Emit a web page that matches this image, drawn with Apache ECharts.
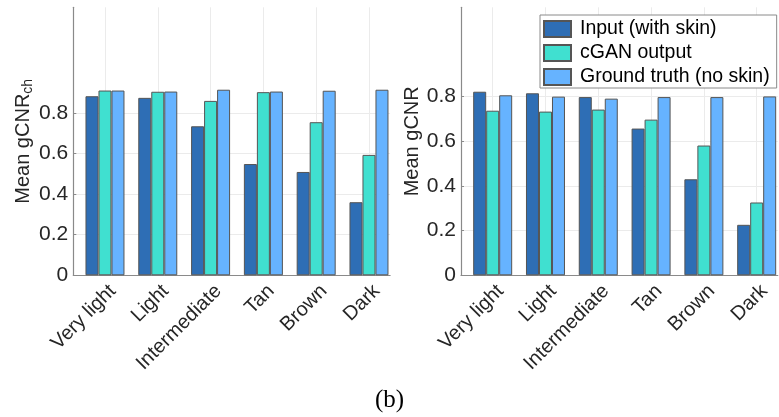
<!DOCTYPE html>
<html>
<head>
<meta charset="utf-8">
<script src="https://cdn.jsdelivr.net/npm/echarts@6/dist/echarts.min.js"></script>
<style>
  html, body { margin: 0; padding: 0; background: #fff; }
  #chart { width: 779px; height: 417px; }
</style>
</head>
<body>
<div id="chart"></div>
<script>
const categories = ['Very light', 'Light', 'Intermediate', 'Tan', 'Brown', 'Dark'];
const positions = [1, 2, 3, 4, 5, 6];
const seriesNames = ['Input (with skin)', 'cGAN output', 'Ground truth (no skin)'];
const leftInput = [0.882, 0.874, 0.734, 0.548, 0.509, 0.360];
const leftCgan  = [0.910, 0.904, 0.859, 0.902, 0.754, 0.593];
const leftGT    = [0.910, 0.905, 0.914, 0.905, 0.909, 0.914];
const rightInput = [0.822, 0.815, 0.798, 0.657, 0.430, 0.226];
const rightCgan  = [0.737, 0.733, 0.742, 0.697, 0.581, 0.326];
const rightGT    = [0.806, 0.800, 0.791, 0.798, 0.798, 0.801];
const yTicks = [0, 0.2, 0.4, 0.6, 0.8];
const colors = ['#2E6EB5', '#40E0D0', '#66B3FF'];

const FONT = 'Liberation Sans, Arial, Helvetica, sans-serif';
const chart = echarts.init(document.getElementById('chart'), null, { renderer: 'canvas' });

function xAxisDef(gridIndex) {
  return {
    type: 'value', gridIndex: gridIndex, min: 0.4, max: 6.4,
    axisLine: { show: true, onZero: false, lineStyle: { color: '#8a8a8a', width: 1.2 } },
    axisTick: { show: false, customValues: positions },
    splitLine: { show: true, customValues: positions, lineStyle: { color: '#ebebeb', width: 1 } },
    axisLabel: {
      customValues: positions, rotate: 45, margin: 5, verticalAlign: 'top', lineHeight: 22,
      fontFamily: FONT, fontSize: 20, color: '#262626',
      formatter: function (v) { return categories[Math.round(v) - 1] || ''; }
    }
  };
}
function yAxisDef(gridIndex, max, name, gap) {
  return {
    type: 'value', gridIndex: gridIndex, min: 0, max: max,
    name: name, nameLocation: 'middle', nameRotate: 90, nameGap: gap,
    nameTextStyle: {
      fontFamily: FONT, fontSize: 20, color: '#262626',
      rich: { sub: { fontFamily: FONT, fontSize: 14, color: '#262626', padding: [10, 0, 0, 0] } }
    },
    axisLine: { show: true, lineStyle: { color: '#8a8a8a', width: 1.2 } },
    axisTick: { show: true, inside: true, length: 3, customValues: yTicks, lineStyle: { color: '#8a8a8a' } },
    splitLine: { show: true, customValues: yTicks, lineStyle: { color: '#ebebeb', width: 1 } },
    axisLabel: {
      customValues: yTicks, margin: 5,
      fontFamily: FONT, fontSize: 21, color: '#262626',
      formatter: function (v) { return v === 0 ? '0' : v.toFixed(1); }
    }
  };
}
function barSeries(name, values, color, idx) {
  return {
    type: 'bar', name: name, xAxisIndex: idx, yAxisIndex: idx,
    data: positions.map(function (p, i) { return [p, values[i]]; }),
    barWidth: 13, barGap: '0%',
    itemStyle: { color: color, borderColor: '#555555', borderWidth: 1 },
    emphasis: { disabled: true }
  };
}

chart.setOption({
  animation: false,
  grid: [
    { left: 73.3, top: 7.3, width: 316.8, height: 268 },
    { left: 461, top: 7.3, width: 316.8, height: 268 }
  ],
  xAxis: [xAxisDef(0), xAxisDef(1)],
  yAxis: [
    yAxisDef(0, 1.32, 'Mean gCNR{sub|ch}', 37),
    yAxisDef(1, 1.2, 'Mean gCNR', 31)
  ],
  legend: {
    data: seriesNames, orient: 'vertical', left: 540, top: 15,
    icon: 'rect', itemWidth: 27, itemHeight: 16, itemGap: 4,
    padding: [4, 7, 1, 3],
    borderColor: '#8a8a8a', borderWidth: 1, backgroundColor: '#ffffff',
    textStyle: { fontFamily: FONT, fontSize: 19.5, color: '#000', lineHeight: 16, padding: [0, 0, 0, 4] },
    selectedMode: false
  },
  graphic: [{
    type: 'text', left: 'center', top: 388,
    style: { text: '(b)', font: '25px "Liberation Serif", "Times New Roman", serif', fill: '#000' }
  }],
  series: [
    barSeries(seriesNames[0], leftInput, colors[0], 0),
    barSeries(seriesNames[1], leftCgan, colors[1], 0),
    barSeries(seriesNames[2], leftGT, colors[2], 0),
    barSeries(seriesNames[0], rightInput, colors[0], 1),
    barSeries(seriesNames[1], rightCgan, colors[1], 1),
    barSeries(seriesNames[2], rightGT, colors[2], 1)
  ]
});
</script>
</body>
</html>
